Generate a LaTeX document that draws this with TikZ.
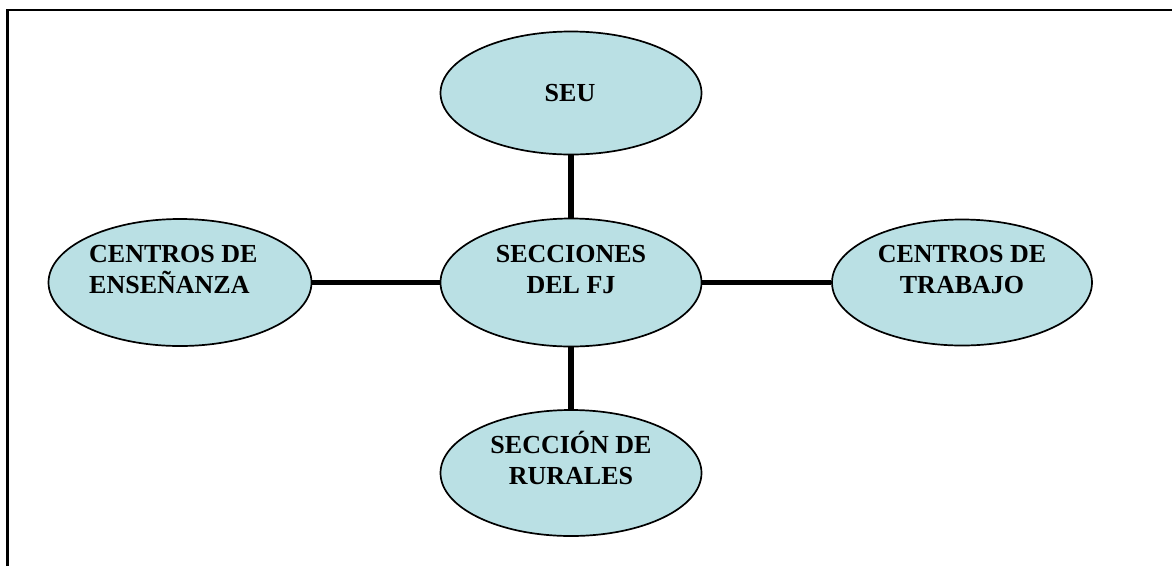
\documentclass[tikz,border=0pt]{standalone}
\usepackage{fontspec}
\setmainfont{Liberation Serif}
\usetikzlibrary{shapes.geometric}
\definecolor{ellfill}{RGB}{186,224,228}
\begin{document}
\begin{tikzpicture}[x=1pt,y=-1pt,
  oval/.style={ellipse,draw=black,line width=1.7pt,fill=ellfill,inner sep=0pt},
  conn/.style={line width=5.5pt,black},
  txt/.style={font=\fontsize{26}{31}\selectfont\bfseries,inner sep=0pt,anchor=base},
  txtl/.style={txt,anchor=base west},
  frame/.style={line width=2.4pt,black}]
\useasboundingbox (0,0) rectangle (1172,566);
\fill[white] (0,0) rectangle (1172,566);
\draw[frame] (7.5,566) -- (7.5,10) -- (1172,10);
% ellipses
\node[oval,minimum width=261pt,minimum height=123pt] (seu) at (571,93) {};
\node[oval,minimum width=261pt,minimum height=128pt] (sec) at (571,282.5) {};
\node[oval,minimum width=263pt,minimum height=127pt] (ens) at (180,282.5) {};
\node[oval,minimum width=260pt,minimum height=126pt] (tra) at (962,282.5) {};
\node[oval,minimum width=261pt,minimum height=126pt] (rur) at (571,473) {};
% connectors
\draw[conn] (seu.south) -- (sec.north);
\draw[conn] (sec.south) -- (rur.north);
\draw[conn] (ens.east) -- (sec.west);
\draw[conn] (sec.east) -- (tra.west);
% texts
\node[txt] (seut) at (570,101.5) {SEU};
\node[txt] (sect1) at (571,262.5) {SECCIONES};
\node[txt] (sect2) at (571,293.5) {DEL FJ};
\node[txtl] (enst1) at (89,262.5) {CENTROS DE};
\node[txtl] (enst2) at (89,293.5) {ENSEÑANZA};
\node[txt] (trat1) at (962,262.5) {CENTROS DE};
\node[txt] (trat2) at (962,293.5) {TRABAJO};
\node[txt] (rurt1) at (571,453.5) {SECCIÓN DE};
\node[txt] (rurt2) at (571,484.5) {RURALES};
\end{tikzpicture}
\end{document}
